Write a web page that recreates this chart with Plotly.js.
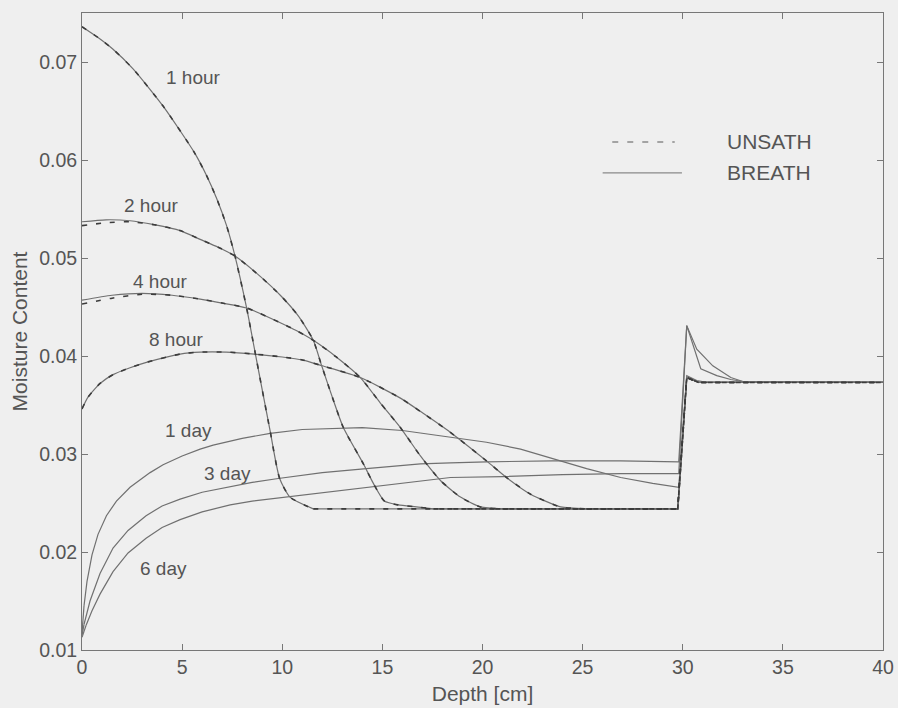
<!DOCTYPE html>
<html>
<head>
<meta charset="utf-8">
<script src="https://cdn.plot.ly/plotly-3.0.1.min.js"></script>
<style>
html,body{margin:0;padding:0;background:#efefef;}
#chart{width:898px;height:708px;}
</style>
</head>
<body>
<div id="chart"></div>
<script>
// ---- data (depth in cm, moisture content) ----
var depth1h = [0, 0.8, 1.55, 2.55, 4.05, 5.6, 6.2, 6.72, 7.22, 7.64, 8.22, 8.66, 9.39, 9.87, 10.39, 11.55, 29.75, 30.2, 30.8, 40];
var moist1h = [0.0736, 0.0725, 0.0713, 0.0693, 0.0655, 0.0608, 0.0585, 0.0561, 0.0533, 0.0502, 0.0449, 0.0402, 0.0324, 0.0275, 0.0256, 0.0244, 0.0244, 0.0378, 0.0373, 0.0373];

var depth2h = [0, 1.2, 2.4, 3.6, 4.9, 5.9, 6.8, 7.64, 8.8, 9.95, 10.8, 11.55, 11.97, 12.5, 13.05, 14.05, 14.55, 15.1, 15.8, 16.7, 17.55, 29.75, 30.2, 30.8, 40];
var moist2h = [0.0537, 0.0539, 0.0538, 0.0534, 0.0528, 0.0519, 0.0511, 0.0502, 0.0483, 0.0461, 0.0441, 0.0416, 0.0390, 0.0358, 0.0327, 0.0290, 0.0270, 0.0252, 0.0248, 0.0246, 0.0244, 0.0244, 0.0378, 0.0373, 0.0373];
var moist2hUnsath = [0.0533, 0.0536, 0.0537, 0.0534, 0.0528, 0.0519, 0.0511, 0.0502, 0.0483, 0.0461, 0.0441, 0.0416, 0.0390, 0.0358, 0.0327, 0.0290, 0.0270, 0.0252, 0.0248, 0.0246, 0.0244, 0.0244, 0.0378, 0.0373, 0.0373];

var depth4h = [0, 1.5, 3.0, 4.5, 5.9, 7.0, 8.22, 9.9, 10.7, 11.55, 12.7, 13.9, 14.9, 15.9, 16.9, 17.9, 18.9, 19.9, 21.0, 29.75, 30.2, 30.8, 40];
var moist4h = [0.0457, 0.0462, 0.0464, 0.0462, 0.0458, 0.0454, 0.0449, 0.0434, 0.0426, 0.0416, 0.0399, 0.0378, 0.0352, 0.0327, 0.0298, 0.0273, 0.0256, 0.0246, 0.0244, 0.0244, 0.0378, 0.0373, 0.0373];
var moist4hUnsath = [0.0453, 0.0459, 0.0463, 0.0462, 0.0458, 0.0454, 0.0449, 0.0434, 0.0426, 0.0416, 0.0399, 0.0378, 0.0352, 0.0327, 0.0298, 0.0273, 0.0256, 0.0246, 0.0244, 0.0244, 0.0378, 0.0373, 0.0373];

var depth8h = [0, 0.3, 0.9, 1.55, 2.4, 3.3, 4.9, 5.9, 7.2, 8.6, 10.0, 11.0, 12.0, 13.9, 15.9, 17.0, 18.4, 20.2, 21.2, 22.4, 23.9, 25.2, 29.75, 30.2, 30.8, 40];
var moist8h = [0.0346, 0.0358, 0.0372, 0.0381, 0.0388, 0.0394, 0.0402, 0.0404, 0.0404, 0.0402, 0.0399, 0.0396, 0.0390, 0.0378, 0.0357, 0.0342, 0.0322, 0.0293, 0.0276, 0.0259, 0.0246, 0.0244, 0.0244, 0.0378, 0.0373, 0.0373];

var depth1d = [0, 0.1, 0.25, 0.5, 0.8, 1.22, 1.72, 2.4, 3.4, 4.05, 5.0, 5.9, 6.55, 8.0, 9.4, 11.0, 12.55, 14.0, 16.0, 18.4, 20.2, 21.9, 23.55, 25.2, 26.9, 28.5, 29.8, 30.2, 30.7, 31.2, 40];
var moist1d = [0.0117, 0.0145, 0.0170, 0.0197, 0.0218, 0.0237, 0.0252, 0.0266, 0.0281, 0.0289, 0.0298, 0.0305, 0.0309, 0.0316, 0.0321, 0.0325, 0.0326, 0.0327, 0.0324, 0.0317, 0.0312, 0.0305, 0.0295, 0.0285, 0.0276, 0.0270, 0.0266, 0.0380, 0.0375, 0.0373, 0.0373];

var depth3d = [0, 0.1, 0.4, 0.9, 1.55, 2.3, 3.2, 4.0, 4.9, 6.0, 7.4, 8.5, 9.8, 12.0, 14.2, 16.9, 18.4, 20.2, 23.5, 26.9, 29.8, 30.2, 30.7, 31.5, 32.4, 33.0, 40];
var moist3d = [0.0115, 0.0126, 0.0150, 0.0178, 0.0204, 0.0222, 0.0237, 0.0247, 0.0254, 0.0261, 0.0267, 0.0271, 0.0275, 0.0281, 0.0285, 0.0290, 0.0291, 0.0292, 0.0293, 0.0293, 0.0292, 0.0431, 0.0407, 0.0390, 0.0378, 0.0374, 0.0373];

var depth6d = [0, 0.2, 0.5, 0.9, 1.55, 2.3, 3.2, 4.0, 4.9, 6.0, 7.4, 8.5, 9.7, 12.0, 14.5, 16.9, 18.4, 21.0, 24.0, 26.9, 29.8, 30.2, 30.9, 31.7, 32.4, 33.0, 40];
var moist6d = [0.0113, 0.0125, 0.0140, 0.0157, 0.0180, 0.0199, 0.0214, 0.0225, 0.0233, 0.0241, 0.0248, 0.0252, 0.0255, 0.0260, 0.0267, 0.0273, 0.0276, 0.0277, 0.0279, 0.0280, 0.0280, 0.0431, 0.0387, 0.0380, 0.0376, 0.0374, 0.0373];

// curve labels and their positions (depth, moisture)
var labelText  = ["1 hour", "2 hour", "4 hour", "8 hour", "1 day", "3 day", "6 day"];
var labelDepth = [5.56, 3.49, 3.9, 4.72, 5.34, 7.26, 4.09];
var labelMoist = [0.0684, 0.0554, 0.0476, 0.0417, 0.0324, 0.0280, 0.0183];

var xTicks = [0, 5, 10, 15, 20, 25, 30, 35, 40];
var yTicks = [0.01, 0.02, 0.03, 0.04, 0.05, 0.06, 0.07];
var yTickText = ["0.01", "0.02", "0.03", "0.04", "0.05", "0.06", "0.07"];
var legendNames = ["UNSATH", "BREATH"];
var layerBoundary = 29.75;    // depth where the layer jump starts
var initialMoisture = 0.0244; // undisturbed moisture of the upper layer

// ---- build traces ----
var breathColor = "#707070";
var unsathColor = "#3c3c3c";
var FONT = "Liberation Sans, Arial, Helvetica, sans-serif";
var TXT = "#555555";

var breathSets = [[depth1h, moist1h], [depth2h, moist2h], [depth4h, moist4h], [depth8h, moist8h],
                  [depth1d, moist1d], [depth3d, moist3d], [depth6d, moist6d]];
var unsathSets = [[depth1h, moist1h], [depth2h, moist2hUnsath], [depth4h, moist4hUnsath], [depth8h, moist8h]];

var traces = [];
function addCurve(d, m, lineStyle) {
  var k = 0;
  while (k < d.length && d[k] < layerBoundary && !(k > 0 && m[k] <= initialMoisture)) k++;
  // smooth part
  traces.push({x: d.slice(0, k + 1), y: m.slice(0, k + 1), type: "scatter", mode: "lines",
               showlegend: false, hoverinfo: "skip",
               line: Object.assign({shape: "spline", smoothing: 0.6}, lineStyle)});
  // flat part, layer jump and lower layer
  traces.push({x: d.slice(k), y: m.slice(k), type: "scatter", mode: "lines",
               showlegend: false, hoverinfo: "skip",
               line: Object.assign({shape: "linear"}, lineStyle)});
}
breathSets.forEach(function (s) { addCurve(s[0], s[1], {color: breathColor, width: 1.2}); });
unsathSets.forEach(function (s) { addCurve(s[0], s[1], {color: unsathColor, width: 1.6, dash: "5px,9px"}); });

var annotations = labelText.map(function (t, i) {
  return {x: labelDepth[i], y: labelMoist[i], xref: "x", yref: "y", text: t, showarrow: false,
          font: {family: FONT, size: 19, color: TXT}, xanchor: "center", yanchor: "middle"};
});
// legend text
annotations.push({x: 0.803, y: 0.7975, xref: "paper", yref: "paper", text: legendNames[0], showarrow: false,
                  xanchor: "left", yanchor: "middle", font: {family: FONT, size: 21, color: TXT}});
annotations.push({x: 0.803, y: 0.749, xref: "paper", yref: "paper", text: legendNames[1], showarrow: false,
                  xanchor: "left", yanchor: "middle", font: {family: FONT, size: 21, color: TXT}});

var shapes = [
  {type: "line", xref: "paper", yref: "paper", x0: 0.662, x1: 0.740, y0: 0.7975, y1: 0.7975,
   line: {color: "#8a8a8a", width: 1.5, dash: "6px,9px"}},
  {type: "line", xref: "paper", yref: "paper", x0: 0.650, x1: 0.749, y0: 0.749, y1: 0.749,
   line: {color: "#8a8a8a", width: 1.2}}
];

var axisCommon = {
  showgrid: false, zeroline: false, showline: true, linecolor: "#777777", linewidth: 1,
  mirror: "ticks", ticks: "inside", ticklen: 6, tickcolor: "#777777", tickwidth: 1,
  tickfont: {family: FONT, size: 19.5, color: TXT}
};

var layout = {
  width: 898, height: 708,
  margin: {l: 82, r: 15, t: 13, b: 58},
  paper_bgcolor: "#efefef", plot_bgcolor: "#efefef",
  showlegend: false,
  xaxis: Object.assign({}, axisCommon, {
    range: [0, 40], tickvals: xTicks, ticktext: xTicks.map(String),
    title: {text: "Depth [cm]", font: {family: FONT, size: 21, color: TXT}, standoff: 8}
  }),
  yaxis: Object.assign({}, axisCommon, {
    range: [0.01, 0.075], tickvals: yTicks, ticktext: yTickText,
    title: {text: "Moisture Content", font: {family: FONT, size: 21, color: TXT}, standoff: 5}
  }),
  annotations: annotations,
  shapes: shapes
};

Plotly.newPlot("chart", traces, layout, {staticPlot: true, displayModeBar: false});
</script>
</body>
</html>
